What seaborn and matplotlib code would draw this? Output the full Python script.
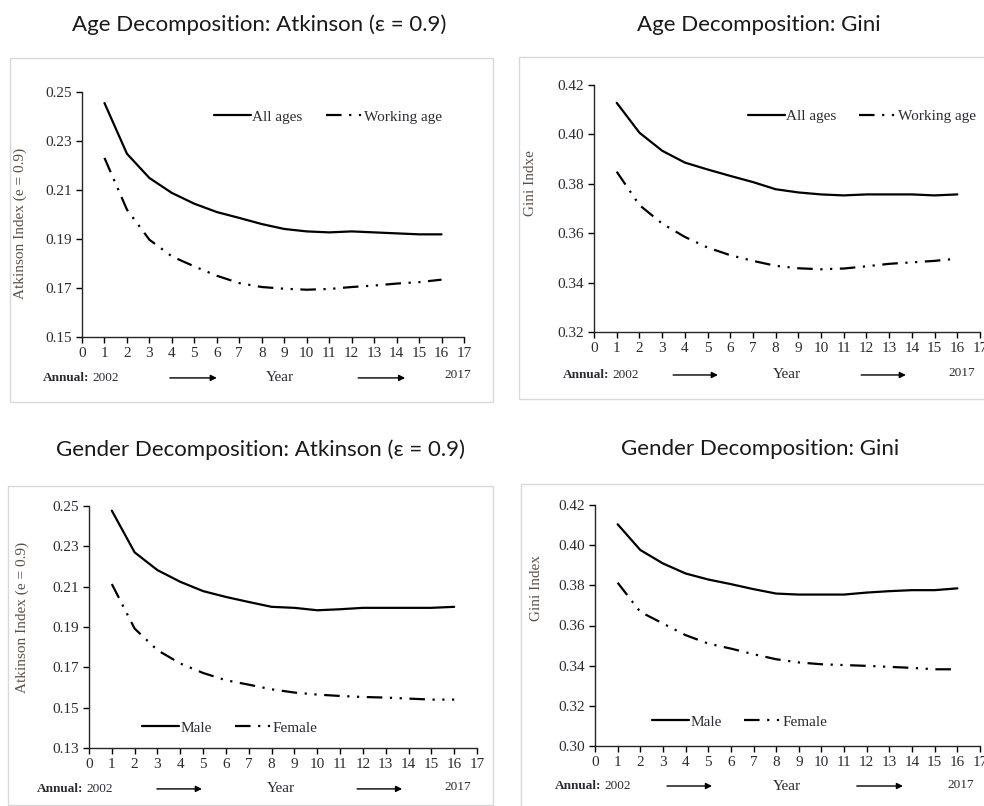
import matplotlib
matplotlib.use("Agg")
import matplotlib.pyplot as plt
from matplotlib.patches import Rectangle
import seaborn as sns
import pandas as pd

# ---------------- data ----------------
years = list(range(1, 17))

age_atk_all = [0.2455, 0.2248, 0.2149, 0.2088, 0.2044, 0.2010, 0.1986, 0.1961,
               0.1941, 0.1931, 0.1927, 0.1931, 0.1927, 0.1923, 0.1919, 0.1919]
age_atk_work = [0.2231, 0.2020, 0.1897, 0.1829, 0.1788, 0.1750, 0.1720, 0.1704,
                0.1697, 0.1693, 0.1696, 0.1704, 0.1710, 0.1718, 0.1724, 0.1734]

age_gini_all = [0.4128, 0.4007, 0.3934, 0.3886, 0.3858, 0.3832, 0.3807, 0.3778,
                0.3765, 0.3757, 0.3753, 0.3757, 0.3757, 0.3757, 0.3753, 0.3757]
age_gini_work = [0.3849, 0.3714, 0.3639, 0.3585, 0.3542, 0.3511, 0.3488, 0.3468,
                 0.3458, 0.3454, 0.3457, 0.3466, 0.3476, 0.3482, 0.3488, 0.3497]

gen_atk_male = [0.2477, 0.2270, 0.2182, 0.2124, 0.2078, 0.2049, 0.2024, 0.2000,
                0.1995, 0.1983, 0.1988, 0.1995, 0.1995, 0.1995, 0.1995, 0.2000]
gen_atk_female = [0.2113, 0.1892, 0.1785, 0.1719, 0.1672, 0.1636, 0.1614, 0.1591,
                  0.1575, 0.1565, 0.1558, 0.1553, 0.1550, 0.1545, 0.1540, 0.1540]

gen_gini_male = [0.4104, 0.3976, 0.3909, 0.3859, 0.3829, 0.3806, 0.3781, 0.3759,
                 0.3754, 0.3754, 0.3754, 0.3764, 0.3771, 0.3776, 0.3776, 0.3785]
gen_gini_female = [0.3813, 0.3668, 0.3610, 0.3552, 0.3510, 0.3485, 0.3457, 0.3432,
                   0.3416, 0.3407, 0.3403, 0.3399, 0.3394, 0.3389, 0.3382, 0.3382]

titles = ["Age Decomposition: Atkinson (\u03b5 = 0.9)", "Age Decomposition: Gini",
          "Gender Decomposition: Atkinson (\u03b5 = 0.9)", "Gender Decomposition: Gini"]
ylabels = ["Atkinson Index (e = 0.9)", "Gini Indxe", "Atkinson Index (e = 0.9)", "Gini Index"]
series_names = [("All ages", "Working age"), ("All ages", "Working age"),
                ("Male", "Female"), ("Male", "Female")]
series_values = [(age_atk_all, age_atk_work), (age_gini_all, age_gini_work),
                 (gen_atk_male, gen_atk_female), (gen_gini_male, gen_gini_female)]
yticks = [[0.15, 0.17, 0.19, 0.21, 0.23, 0.25],
          [0.32, 0.34, 0.36, 0.38, 0.40, 0.42],
          [0.13, 0.15, 0.17, 0.19, 0.21, 0.23, 0.25],
          [0.30, 0.32, 0.34, 0.36, 0.38, 0.40, 0.42]]
xticks = list(range(0, 18))

# ---------------- style ----------------
sns.set_style("ticks")
plt.rcParams["font.family"] = ["Liberation Serif", "DejaVu Serif"]
plt.rcParams["axes.linewidth"] = 1.0

W, H = 984, 806
fig = plt.figure(figsize=(W / 100, H / 100), dpi=100)

# layout (pixel-based)
axes_px = [(82, 92, 464, 337), (594, 85, 980, 332), (89, 506, 477, 748), (595, 505, 980, 746)]
frames_px = [(10, 58, 493, 402), (519, 57, 1000, 399), (8, 486, 493, 805), (521, 484, 1000, 820)]
title_px = [(259, 25), (759, 25), (260, 450), (760, 449)]
ylabel_pos = [(-0.144, 0.465), (-0.148, 0.603), (-0.155, 0.541), (-0.135, 0.656)]
legend_pos = [(0.346, 0.898), (0.399, 0.874), (0.137, 0.083), (0.148, 0.100)]
annot = [  # annual_x, y, arrow1, year_x, arrow2, y2017_x, y2017
    (-0.102, -0.167, (0.230, 0.353), 0.518, (0.723, 0.846), 0.984, -0.155),
    (-0.080, -0.174, (0.205, 0.321), 0.500, (0.692, 0.808), 0.953, -0.166),
    (-0.134, -0.169, (0.175, 0.291), 0.495, (0.691, 0.807), 0.951, -0.161),
    (-0.104, -0.166, (0.187, 0.304), 0.499, (0.680, 0.800), 0.951, -0.162),
]

dashdotdot = (0, (7, 3.4, 1, 3.4, 1, 3.4))
text_col = "#2b2b33"
label_col = "#5b5147"

for i in range(4):
    l, t, r, b = axes_px[i]
    ax = fig.add_axes([l / W, 1 - b / H, (r - l) / W, (b - t) / H])

    # panel frame
    fl, ft, fr, fb = frames_px[i]
    fig.patches.append(Rectangle((fl / W, 1 - fb / H), (fr - fl) / W, (fb - ft) / H,
                                 transform=fig.transFigure, fill=False,
                                 edgecolor="#d9d9d9", lw=1.0, zorder=0))
    fig.text(title_px[i][0] / W, 1 - title_px[i][1] / H, titles[i], ha="center", va="center",
             fontsize=16, family=["Lato", "DejaVu Sans"], color="#1a1a1a")

    n1, n2 = series_names[i]
    v1, v2 = series_values[i]
    df = pd.DataFrame({"year": years, n1: v1, n2: v2})
    sns.lineplot(data=df, x="year", y=n1, ax=ax, color="black", lw=1.6, label=n1)
    sns.lineplot(data=df, x="year", y=n2, ax=ax, color="black", lw=1.6, label=n2,
                 linestyle=dashdotdot)

    ax.set_xlim(0, 17)
    ax.set_ylim(yticks[i][0], yticks[i][-1])
    ax.set_xticks(xticks)
    ax.set_yticks(yticks[i])
    ax.set_yticklabels([f"{v:.2f}" for v in yticks[i]])
    ax.tick_params(axis="both", direction="out", length=4, width=1.0, labelsize=11,
                   colors="black", labelcolor=text_col, pad=3)
    sns.despine(ax=ax)
    ax.set_xlabel("")
    ax.set_ylabel(ylabels[i], fontsize=11, color=label_col)
    ax.yaxis.set_label_coords(*ylabel_pos[i])

    leg = ax.legend(loc="center left", bbox_to_anchor=legend_pos[i], ncol=2, frameon=False,
                    fontsize=11, handlelength=2.4, handletextpad=0.1, columnspacing=1.5,
                    borderpad=0, borderaxespad=0)
    for txt in leg.get_texts():
        txt.set_color(text_col)

    ax_x, ay, a1, yx, a2, x17, y17 = annot[i]
    t1 = ax.text(ax_x, ay, "Annual:", transform=ax.transAxes, ha="left", va="center",
                 fontsize=9.5, fontweight="bold", color=text_col)
    ax.annotate("2002", xy=(1, 0.5), xycoords=t1, xytext=(2, 0), textcoords="offset points",
                ha="left", va="center", fontsize=9.5, color=text_col)
    for (xa, xb) in (a1, a2):
        ax.annotate("", xy=(xb, ay), xytext=(xa, ay), xycoords="axes fraction",
                    textcoords="axes fraction",
                    arrowprops=dict(arrowstyle="-|>", lw=1.0, color="black",
                                    mutation_scale=9, shrinkA=0, shrinkB=0))
    ax.text(yx, ay, "Year", transform=ax.transAxes, ha="center", va="center",
            fontsize=11, color=text_col)
    ax.text(x17, y17, "2017", transform=ax.transAxes, ha="center", va="center",
            fontsize=9.5, color=text_col)

fig.savefig("out.png", dpi=100, facecolor="white")
